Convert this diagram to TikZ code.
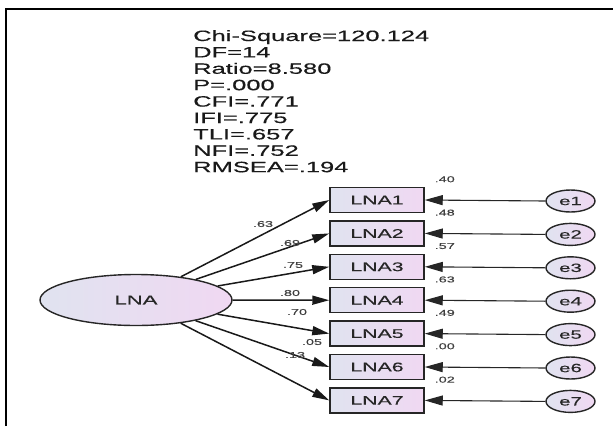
\documentclass[tikz,border=0pt]{standalone}
\usepackage{fontspec}
\newfontfamily\amos{Liberation Sans}[FakeStretch=1.7, FakeBold=0.4]
\usetikzlibrary{arrows.meta,positioning,calc,shapes.geometric}

\definecolor{lblue}{HTML}{E0E3F0}
\definecolor{lpink}{HTML}{F0D8F2}

\begin{document}
\begin{tikzpicture}[
    x=1pt, y=-1pt,
    latent/.style={
        ellipse, draw=black!85, line width=1.4pt,
        left color=lblue, right color=lpink,
        minimum width=192pt, minimum height=51pt,
        inner sep=0pt, font=\amos\fontsize{13}{13}\selectfont, text=black!85
    },
    obs/.style={
        rectangle, draw=black!85, line width=1.5pt,
        left color=lblue, right color=lpink,
        minimum width=94pt, minimum height=25pt,
        inner sep=0pt, font=\amos\fontsize{12.5}{12.5}\selectfont, text=black!85
    },
    err/.style={
        ellipse, draw=black!85, line width=1.4pt,
        left color=lblue, right color=lpink,
        minimum width=49pt, minimum height=22pt,
        inner sep=0pt, font=\amos\fontsize{12}{12}\selectfont, text=black!85
    },
    coef/.style={inner sep=0pt, font=\amos\fontsize{8.5}{8.5}\selectfont, text=black!75},
    fitline/.style={anchor=base west, inner sep=0pt,
        font=\amos\fontsize{15}{15}\selectfont, text=black!90},
    load/.style={-{Triangle[length=17pt,width=9pt]}, line width=1.5pt, color=black!90},
    errarr/.style={-{Triangle[length=18pt,width=10pt]}, line width=1.1pt, color=black!85},
    frame/.style={line width=2.5pt, color=black},
]
\useasboundingbox (0,0) rectangle (613,426);

% outer frame
\draw[frame] (6,426) -- (6,9) -- (613,9);

% fit indices
\foreach \t [count=\k] in {Chi-Square=120.124, DF=14, Ratio=8.580, P=.000,
    CFI=.771, IFI=.775, TLI=.657, NFI=.752, RMSEA=.194}
  \node[fitline] (f\k) at (193, {41+16.4*(\k-1)}) {\t};

% latent factor
\node[latent] (lna) at (136,300) {LNA};

% indicators and error terms
\foreach \i in {1,...,7} {
  \node[obs] (lna\i) at (377, {200+33.4*(\i-1)}) {LNA\i};
  \node[err] (e\i) at (570.5, {201+33.4*(\i-1)}) {e\i};
  \draw[load] (lna) -- (lna\i.west);
  \draw[errarr] (e\i.west) -- (lna\i.east);
}

% loadings
\foreach \v/\x/\y [count=\k] in {.63/263/224, .69/290/243, .75/293/265,
    .80/290/293, .70/297/312, .05/312/342, .13/295/355}
  \node[coef] (w\k) at (\x,\y) {\v};

% squared multiple correlations
\foreach \r [count=\k] in {.40,.48,.57,.63,.49,.00,.02}
  \node[coef] (r\k) at ($(lna\k.north east)+(20,-7.5)$) {\r};

\end{tikzpicture}
\end{document}
